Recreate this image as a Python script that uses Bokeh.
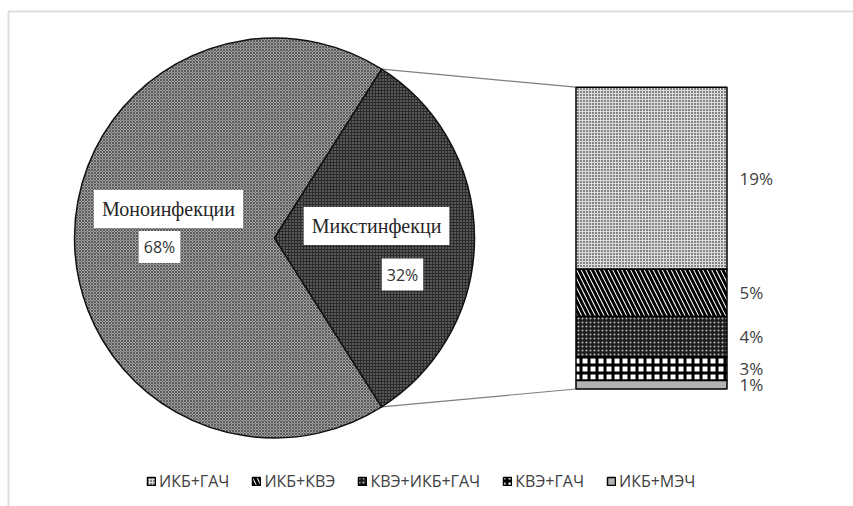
import math
from bokeh.plotting import figure
from bokeh.models import Range1d, Label, Legend, LegendItem, BoxAnnotation, ColumnDataSource
from bokeh.embed import file_html
from bokeh.resources import INLINE

# ---- data ----
pie_names = ["Моноинфекции", "Микстинфекци"]
pie_values = [68, 32]
pie_labels = ["68%", "32%"]

sub_names = ["ИКБ+ГАЧ", "ИКБ+КВЭ", "КВЭ+ИКБ+ГАЧ", "КВЭ+ГАЧ", "ИКБ+МЭЧ"]
sub_values = [19.3, 5.0, 4.3, 2.5, 0.9]
sub_labels = ["19%", "5%", "4%", "3%", "1%"]

# ---- styles ----
pie_fill = ["#a0a0a0", "#2b2b2b"]
pie_hatch = ["x", "."]
pie_hcolor = ["#5c5c5c", "#9a9a9a"]
pie_hscale = [3, 3]

sub_fill = ["#dcdcdc", "#ffffff", "#1c1c1c", "#ffffff", "#b3b3b3"]
sub_hatch = [".", "\\", ".", "+", " "]
sub_hcolor = ["#000000", "#000000", "#bdbdbd", "#000000", "#b3b3b3"]
sub_hscale = [3, 9, 4, 8, 4]
sub_hweight = [1, 3, 1, 3, 1]

W, H = 853, 506
p = figure(width=W, height=H, x_range=Range1d(0, W), y_range=Range1d(0, H),
           output_backend="svg", toolbar_location=None,
           x_axis_type=None, y_axis_type=None, min_border=0)
p.grid.visible = False
p.outline_line_color = None
p.background_fill_color = "white"
p.border_fill_color = "white"

# chart-area frame (top and left edges visible)
p.add_layout(BoxAnnotation(left=8, right=W + 20, bottom=-20, top=H - 11,
                           fill_color=None, line_color="#8f8f8f", line_width=2))

# ---- pie ----
cx, cy, r = 274, H - 237.5, 200
total = sum(pie_values)
mix_ang = 2 * math.pi * pie_values[1] / total
starts = [mix_ang / 2, -mix_ang / 2]
ends = [2 * math.pi - mix_ang / 2, mix_ang / 2]

# ---- bar of pie ----
bar_x, bar_w = 651, 151
bar_bottom0, bar_height = H - 388.5, 301.8
k = bar_height / sum(sub_values)
tops, bottoms = [0.0] * 5, [0.0] * 5
acc = bar_bottom0
for i in reversed(range(5)):
    bottoms[i] = acc
    acc += sub_values[i] * k
    tops[i] = acc
bar_left = bar_x - bar_w / 2

# connector lines
p.segment(x0=[cx + r * math.cos(mix_ang / 2), cx + r * math.cos(-mix_ang / 2)],
          y0=[cy + r * math.sin(mix_ang / 2), cy + r * math.sin(-mix_ang / 2)],
          x1=[bar_left, bar_left], y1=[tops[0], bottoms[-1]],
          line_color="#7f7f7f", line_width=1.2)

pie_src = ColumnDataSource(dict(name=pie_names, start=starts, end=ends, fill=pie_fill,
                                hatch=pie_hatch, hcolor=pie_hcolor, hscale=pie_hscale))
p.wedge(x=cx, y=cy, radius=r, start_angle="start", end_angle="end", source=pie_src,
        fill_color="fill", hatch_pattern="hatch", hatch_color="hcolor",
        hatch_scale="hscale", hatch_weight=1, line_color="#111111", line_width=1.5)

bar_src = ColumnDataSource(dict(name=sub_names, top=tops, bottom=bottoms, fill=sub_fill,
                                hatch=sub_hatch, hcolor=sub_hcolor, hscale=sub_hscale,
                                hweight=sub_hweight))
bars = p.vbar(x=bar_x, width=bar_w, bottom="bottom", top="top", source=bar_src,
              fill_color="fill", hatch_pattern="hatch", hatch_color="hcolor",
              hatch_scale="hscale", hatch_weight="hweight",
              line_color="#000000", line_width=1.5)

# bar labels
for i in range(5):
    p.add_layout(Label(x=739, y=(tops[i] + bottoms[i]) / 2, text=sub_labels[i],
                       text_font="Open Sans", text_font_size="17px", text_color="#404040",
                       text_align="left", text_baseline="middle"))

# pie labels
name_off = [(-106, 29), (102, 12)]
pct_off = [(-115, -9), (128, -36.5)]
for i in range(2):
    p.add_layout(Label(x=cx + name_off[i][0], y=cy + name_off[i][1], text=pie_names[i],
                       text_font="Liberation Serif", text_font_size="20px", text_color="#262626",
                       text_align="center", text_baseline="middle",
                       background_fill_color="white", padding=8))
    p.add_layout(Label(x=cx + pct_off[i][0], y=cy + pct_off[i][1], text=pie_labels[i],
                       text_font="Open Sans", text_font_size="16px", text_color="#333333",
                       text_align="center", text_baseline="middle",
                       background_fill_color="white", padding=5))

legend = Legend(items=[LegendItem(label=sub_names[i], renderers=[bars], index=i) for i in range(5)],
                orientation="horizontal", location=(146, 14), padding=0, margin=0,
                spacing=22, label_standoff=3, glyph_width=10, glyph_height=10,
                label_text_font="Open Sans", label_text_font_size="16px",
                label_text_color="#404040", border_line_color=None, background_fill_alpha=0)
p.add_layout(legend)

open("out.html", "w").write(file_html(p, INLINE))
